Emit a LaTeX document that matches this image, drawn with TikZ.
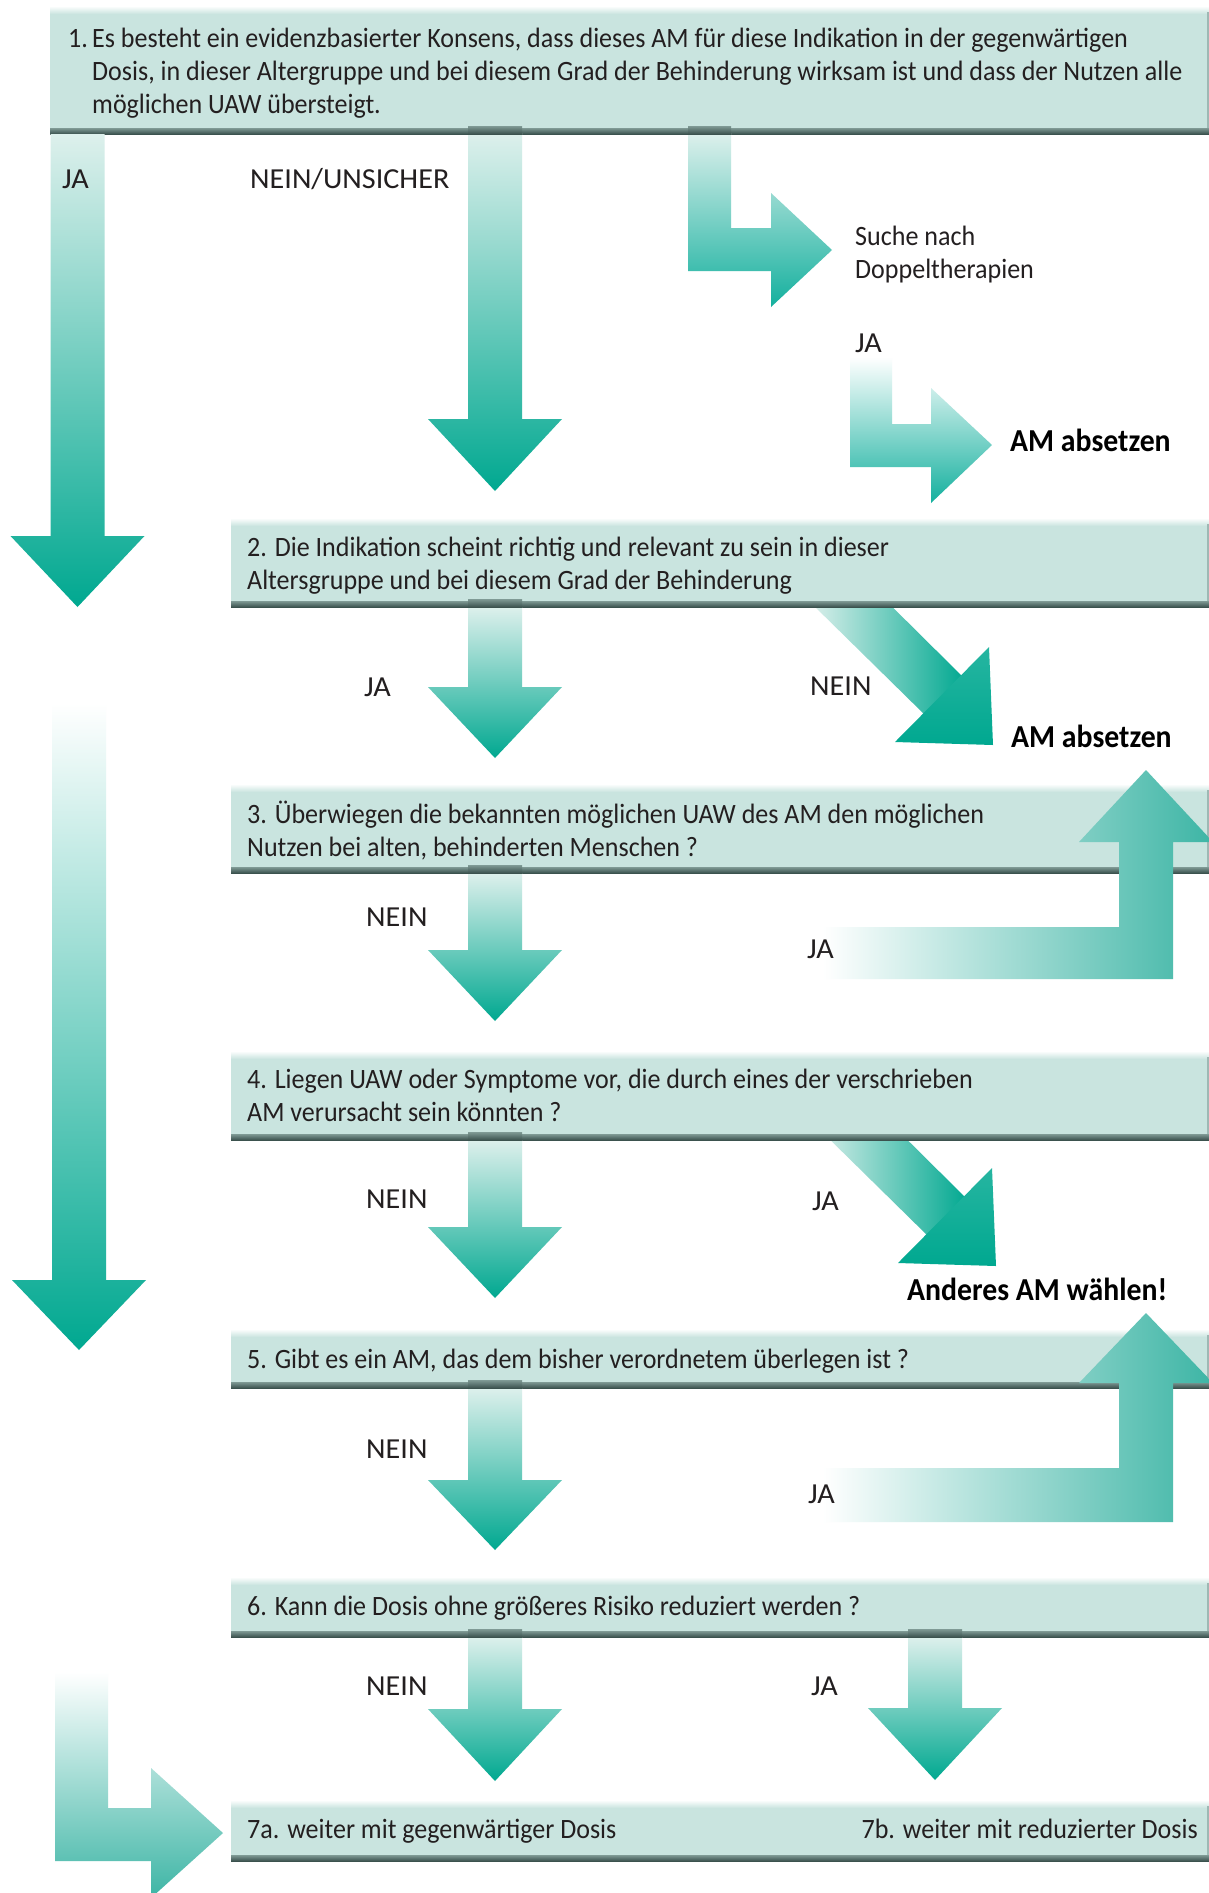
\documentclass[tikz,border=0pt]{standalone}
\usepackage{fontspec}
\setmainfont[FakeStretch=0.93]{Carlito}
\newfontfamily\capsfont[FakeStretch=1.04]{Carlito}
\definecolor{boxfill}{HTML}{C9E4DF}
\definecolor{bandtop}{HTML}{7F9A95}
\definecolor{bandbot}{HTML}{3B524E}
\definecolor{tealD}{HTML}{00A890}
\definecolor{tealH}{HTML}{14B09E}
\definecolor{tealM}{HTML}{6CC5B8}
\definecolor{tealL}{HTML}{DDF0EC}
\definecolor{tealU}{HTML}{3DB5A5}
\definecolor{txt}{HTML}{231F20}
\tikzset{
  boxnode/.style={fill=boxfill, inner sep=0pt, outer sep=0pt, anchor=north west},
  boxtext/.style={anchor=base west, inner sep=0pt, align=left, text=txt, font=\fontsize{28}{33}\selectfont},
  lbl/.style={anchor=base west, inner sep=0pt, text=txt, font=\capsfont\fontsize{29}{33}\selectfont},
  blbl/.style={anchor=base west, inner sep=0pt, text=black, font=\fontsize{32}{33}\selectfont\bfseries},
  shortarrow/.style={top color=tealL, bottom color=tealD},
  longarrow/.style={top color=tealL, middle color=tealM, bottom color=tealD},
  darkcap/.style={top color=bandtop, bottom color=bandbot},
}
% box: name, x1, y1, x2, y2
\newcommand\mkbox[5]{%
  \node[boxnode, minimum width={(#4-#2)*1pt}, minimum height={(#5-#3)*1pt}] (#1) at (#2,#3) {};
  \shade[top color=white, bottom color=boxfill] (#1.north west) rectangle ([yshift=-8pt]#1.north east);
  \shade[top color=bandtop, bottom color=bandbot] ([yshift=6pt]#1.south west) rectangle (#1.south east);
  \fill[boxfill!70!bandbot] ([xshift=-2pt,yshift=-6pt]#1.north east) rectangle ([yshift=6pt]#1.south east);
}
% vertical arrow: style, cx, ytop, ybase, ytip
\newcommand\varrow[5]{%
  \shade[#1] (#2-27,#3) -- (#2+27,#3) -- (#2+27,#4) -- (#2+67,#4) -- (#2,#5) -- (#2-67,#4) -- (#2-27,#4) -- cycle;
}
\begin{document}
\begin{tikzpicture}[x=1pt,y=-1pt]
\useasboundingbox (0,0) rectangle (1209,1893);
\clip (0,0) rectangle (1209,1893);
\fill[white] (0,0) rectangle (1209,1893);

% diagonal shafts (behind the boxes)
\shade[left color=tealL, right color=tealD] (848,563) -- (965,679) -- (927,717) -- (810,602) -- cycle;
\shade[left color=tealL, right color=tealD] (851,1084) -- (968,1200) -- (930,1238) -- (813,1123) -- cycle;

% boxes
\mkbox{b1}{50}{6}{1209}{134}
\mkbox{b2}{231}{518}{1209}{607}
\mkbox{b3}{231}{784}{1209}{873}
\mkbox{b4}{231}{1051}{1209}{1140}
\mkbox{b5}{231}{1329}{1209}{1388}
\mkbox{b6}{231}{1577}{1209}{1637}
\mkbox{b7}{231}{1800}{1209}{1861}

% diagonal heads
\shade[top color=tealD!85!white, bottom color=tealD] (989,647) -- (993,745) -- (895,742) -- cycle;
\shade[top color=tealD!85!white, bottom color=tealD] (992,1168) -- (996,1266) -- (898,1263) -- cycle;

% left column arrows
\varrow{longarrow}{77.5}{134}{536}{607}
\varrow{top color=white, middle color=tealM, bottom color=tealD}{79}{703}{1280}{1350}
\shade[top color=white, bottom color=tealU] (55,1672) -- (108,1672) -- (108,1808) -- (151,1808) -- (151,1768) -- (223,1833) -- (151,1898) -- (151,1861) -- (55,1861) -- cycle;

% middle arrows
\varrow{longarrow}{495}{133}{419}{491}
\varrow{shortarrow}{495}{607}{687}{758}
\varrow{shortarrow}{495}{873}{950}{1021}
\varrow{shortarrow}{495}{1140}{1227}{1298}
\varrow{shortarrow}{495}{1388}{1480}{1550}
\varrow{shortarrow}{495}{1637}{1709}{1781}
\varrow{shortarrow}{935}{1637}{1708}{1780}

% bent arrows (top right)
\shade[top color=tealL, bottom color=tealH] (688,133) -- (731,133) -- (731,228) -- (771,228) -- (771,193) -- (832,250) -- (771,307) -- (771,271) -- (688,271) -- cycle;
\shade[top color=white, bottom color=tealH] (850,357) -- (892,357) -- (892,424) -- (931,424) -- (931,388) -- (992,445) -- (931,503) -- (931,467) -- (850,467) -- cycle;

% up arrows (right)
\shade[left color=white, right color=tealU] (823,927) -- (1119,927) -- (1119,842) -- (1079,842) -- (1146,770) -- (1213,842) -- (1173,842) -- (1173,979) -- (823,979) -- cycle;
\shade[left color=white, right color=tealU] (823,1468) -- (1119,1468) -- (1119,1383) -- (1079,1383) -- (1146,1313) -- (1213,1383) -- (1173,1383) -- (1173,1522) -- (823,1522) -- cycle;

% dark caps where arrows leave boxes
\shade[darkcap] (468,126) rectangle (522,134);
\shade[darkcap] (688,126) rectangle (731,134);
\shade[darkcap] (468,599) rectangle (522,607);
\shade[darkcap] (468,865) rectangle (522,873);
\shade[darkcap] (468,1132) rectangle (522,1140);
\shade[darkcap] (468,1380) rectangle (522,1388);
\shade[darkcap] (468,1629) rectangle (522,1637);
\shade[darkcap] (908,1629) rectangle (962,1637);

% box texts (multi-line nodes: anchor on the last line's baseline)
\node[boxtext] (t1) at (68,113) {\makebox[24pt][l]{1.}Es besteht ein evidenzbasierter Konsens, dass dieses AM für diese Indikation in der gegenwärtigen\\\hspace*{24pt}Dosis, in dieser Altergruppe und bei diesem Grad der Behinderung wirksam ist und dass der Nutzen alle\\\hspace*{24pt}möglichen UAW übersteigt.};
\node[boxtext] (t2) at (247,589) {2. Die Indikation scheint richtig und relevant zu sein in dieser\\Altersgruppe und bei diesem Grad der Behinderung};
\node[boxtext] (t3) at (247,856) {3. Überwiegen die bekannten möglichen UAW des AM den möglichen\\Nutzen bei alten, behinderten Menschen ?};
\node[boxtext] (t4) at (247,1121) {4. Liegen UAW oder Symptome vor, die durch eines der verschrieben\\AM verursacht sein könnten ?};
\node[boxtext] (t5) at (247,1368) {5. Gibt es ein AM, das dem bisher verordnetem überlegen ist ?};
\node[boxtext] (t6) at (247,1615) {6. Kann die Dosis ohne größeres Risiko reduziert werden ?};
\node[boxtext] (t7a) at (247,1838) {7a. weiter mit gegenwärtiger Dosis};
\node[boxtext, anchor=base east] (t7b) at (1198,1838) {7b. weiter mit reduzierter Dosis};

% labels
\node[lbl] (l1) at (62,188) {JA};
\node[lbl] (l2) at (250,188) {NEIN/UNSICHER};
\node[boxtext] (l3) at (855,278) {Suche nach\\Doppeltherapien};
\node[lbl] (l4) at (855,352) {JA};
\node[blbl] (r1) at (1010,451) {AM absetzen};
\node[lbl] (l5) at (364,696) {JA};
\node[lbl] (l6) at (810,695) {NEIN};
\node[blbl] (r2) at (1011,747) {AM absetzen};
\node[lbl] (l7) at (366,926) {NEIN};
\node[lbl] (l8) at (807,958) {JA};
\node[lbl] (l9) at (366,1208) {NEIN};
\node[lbl] (l10) at (812,1210) {JA};
\node[blbl] (r3) at (907,1300) {Anderes AM wählen!};
\node[lbl] (l11) at (366,1458) {NEIN};
\node[lbl] (l12) at (808,1503) {JA};
\node[lbl] (l13) at (366,1695) {NEIN};
\node[lbl] (l14) at (811,1695) {JA};
\end{tikzpicture}
\end{document}
